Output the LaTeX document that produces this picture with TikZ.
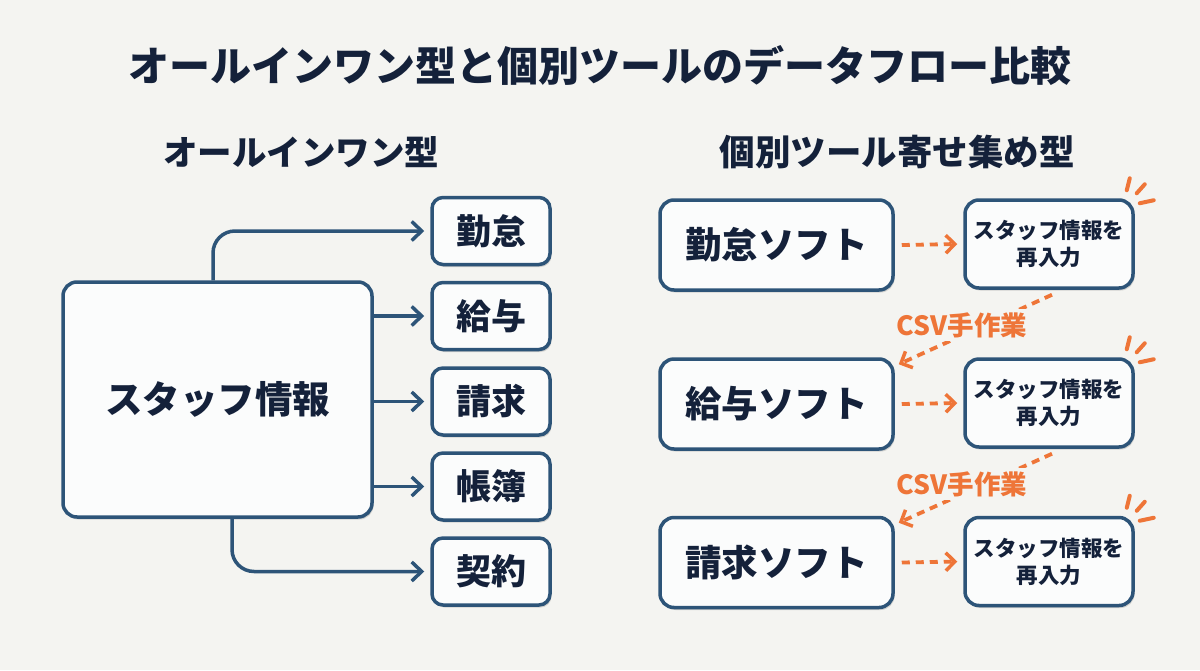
\documentclass[tikz,border=0pt]{standalone}
\usepackage{fontspec}
\setmainfont{Noto Sans CJK JP}
\usetikzlibrary{arrows.meta,shadows,calc}
\definecolor{bg}{HTML}{F4F4F1}
\definecolor{navy}{HTML}{2D5478}
\definecolor{ink}{HTML}{14213A}
\definecolor{org}{HTML}{EE7538}
\definecolor{boxfill}{HTML}{FBFCFC}
\tikzset{
  box/.style={draw=navy, line width=3.5pt, fill=boxfill, rounded corners=14pt, inner sep=0pt,
    text=ink, font=\bfseries, align=center,
    drop shadow={shadow xshift=1.5pt, shadow yshift=-2.5pt, opacity=0.14, fill=black}},
  arr/.style={draw=navy, line width=3.5pt, rounded corners=22pt,
    -{Straight Barb[length=10pt,width=19pt,line width=3.5pt]}, shorten >=6pt},
  oarr/.style={draw=org, line width=3.8pt, dash pattern=on 8pt off 6pt,
    -{Straight Barb[length=9pt,width=18pt,line width=3.5pt]}},
  spark/.style={draw=org, line width=4pt, line cap=round},
  lbl/.style={text=org, font=\bfseries\fontsize{26.5}{26.5}\selectfont, fill=bg, inner sep=3pt},
}
\begin{document}
\begin{tikzpicture}[x=1pt,y=-1pt]
\fill[bg] (0,0) rectangle (1200,670);
\useasboundingbox (0,0) rectangle (1200,670);

\node[text=ink, font=\bfseries\fontsize{41}{41}\selectfont] (title) at (600,66) {オールインワン型と個別ツールのデータフロー比較};
\node[text=ink, font=\bfseries\fontsize{34.5}{34.5}\selectfont] (subL) at (301,152) {オールインワン型};
\node[text=ink, font=\bfseries\fontsize{35.5}{35.5}\selectfont] (subR) at (897,152) {個別ツール寄せ集め型};

% left
\node[box, minimum width=309pt, minimum height=235pt, font=\bfseries\fontsize{37.5}{37.5}\selectfont] (staff) at (217.5,399.5) {スタッフ情報};
\foreach \n/\t/\y in {kin/勤怠/231, kyu/給与/316, sei/請求/401.5, cho/帳簿/486.5, kei/契約/571.5}{
  \node[box, rounded corners=11pt, minimum width=118pt, minimum height=67pt, font=\bfseries\fontsize{35}{35}\selectfont] (\n) at (491,\y) {\t};
}
\draw[arr] ([xshift=-4.5pt]staff.north) |- (kin.west);
\draw[arr] (staff.east |- kyu.west) -- (kyu.west);
\draw[arr] (staff.east |- sei.west) -- (sei.west);
\draw[arr] (staff.east |- cho.west) -- (cho.west);
\draw[arr] ([xshift=14.5pt]staff.south) |- (kei.west);

% right
\foreach \n/\t/\y in {s1/勤怠ソフト/245, s2/給与ソフト/404, s3/請求ソフト/562.5}{
  \node[box, minimum width=233pt, minimum height=90pt, font=\bfseries\fontsize{36.5}{36.5}\selectfont] (\n) at (776.5,\y) {\t};
}
\foreach \n/\y in {r1/244, r2/403, r3/561.5}{
  \node[box, minimum width=168pt, minimum height=88pt, font=\bfseries\fontsize{21.5}{27}\selectfont] (\n) at (1049,\y) {スタッフ情報を\\再入力};
  \draw[spark] ([shift={(-5pt,20pt)}]\n.north east) -- ([shift={(-8pt,8pt)}]\n.north east);
  \draw[spark] ([shift={(10pt,14pt)}]\n.north east) -- ([shift={(2pt,5pt)}]\n.north east);
  \draw[spark] ([shift={(5pt,-5pt)}]\n.north east) -- ([shift={(19pt,-2pt)}]\n.north east);
}
\foreach \a/\b in {s1/r1, s2/r2, s3/r3}{
  \draw[oarr] ([xshift=7pt]\a.east) -- ([xshift=-6pt]\b.west);
}
\draw[oarr] ([xshift=3pt,yshift=-5pt]r1.south) -- ([xshift=4pt,yshift=-7pt]s2.north east);
\node[lbl] (csv1) at (962,325) {CSV手作業};
\draw[oarr] ([xshift=3pt,yshift=-5pt]r2.south) -- ([xshift=4pt,yshift=-7pt]s3.north east);
\node[lbl] (csv2) at (962,484) {CSV手作業};
\end{tikzpicture}
\end{document}
